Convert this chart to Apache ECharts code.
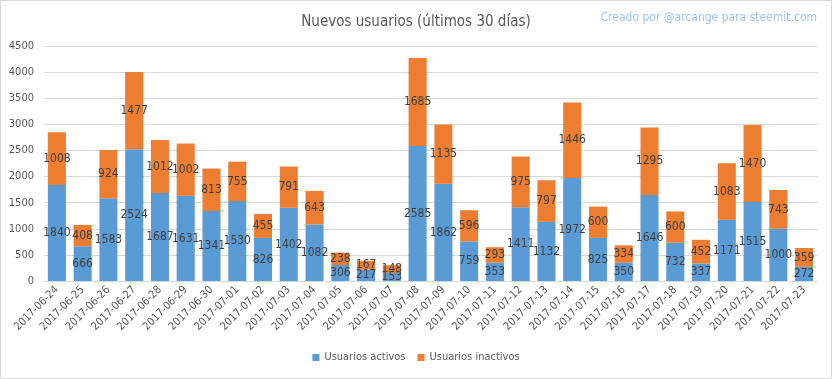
<!DOCTYPE html>
<html><head><meta charset="utf-8">
<script src="https://cdn.jsdelivr.net/npm/echarts@6/dist/echarts.min.js"></script>
<style>html,body{margin:0;padding:0;background:#fff;}#c{width:830px;height:377px;border:1px solid #d9d9d9;}</style>
</head><body><div id="c"></div>
<script>
const categories = ['2017-06-24','2017-06-25','2017-06-26','2017-06-27','2017-06-28','2017-06-29','2017-06-30','2017-07-01','2017-07-02','2017-07-03','2017-07-04','2017-07-05','2017-07-06','2017-07-07','2017-07-08','2017-07-09','2017-07-10','2017-07-11','2017-07-12','2017-07-13','2017-07-14','2017-07-15','2017-07-16','2017-07-17','2017-07-18','2017-07-19','2017-07-20','2017-07-21','2017-07-22','2017-07-23'];
const activos = [1840,666,1583,2524,1687,1631,1341,1530,826,1402,1082,306,217,153,2585,1862,759,353,1411,1132,1972,825,350,1646,732,337,1171,1515,1000,272];
const inactivos = [1008,408,924,1477,1012,1002,813,755,455,791,643,238,167,148,1685,1135,596,293,975,797,1446,600,334,1295,600,452,1083,1470,743,359];
const FONT = "'Liberation Sans Narrow','DejaVu Sans Condensed',sans-serif";
const chart = echarts.init(document.getElementById('c'));
const lbl = {show:true, position:'inside', color:'#404040', fontSize:12, fontFamily:FONT};
chart.setOption({
  animation:false,
  textStyle:{fontFamily:FONT},
  title:[
    {text:'Nuevos usuarios (últimos 30 días)', left:'center', top:9, textStyle:{fontSize:15, fontWeight:'normal', color:'#595959', fontFamily:FONT}},
    {text:'Creado por @arcange para steemit.com', right:9, top:6, textStyle:{fontSize:12, fontWeight:'normal', color:'#9dc3e6', fontFamily:FONT}}
  ],
  legend:{bottom:10, left:'center', itemWidth:7, itemHeight:7, icon:'rect', itemGap:12, textStyle:{fontSize:11, color:'#595959', fontFamily:FONT}, data:['Usuarios activos','Usuarios inactivos']},
  grid:{left:43, right:14, top:45, bottom:97, containLabel:false},
  xAxis:{type:'category', data:categories, axisTick:{show:false}, axisLine:{lineStyle:{color:'#d9d9d9'}},
    axisLabel:{rotate:45, fontSize:11, color:'#595959', interval:0, margin:7, fontFamily:FONT}},
  yAxis:{type:'value', min:0, max:4500, interval:500, axisLine:{show:false}, axisTick:{show:false},
    splitLine:{lineStyle:{color:'#d9d9d9'}}, axisLabel:{fontSize:11, color:'#595959', margin:10, fontFamily:FONT, formatter:function(v){return String(v);}}},
  series:[
    {name:'Usuarios activos', type:'bar', stack:'t', data:activos, barCategoryGap:'30%', itemStyle:{color:'#5B9BD5'}, label:lbl},
    {name:'Usuarios inactivos', type:'bar', stack:'t', data:inactivos, itemStyle:{color:'#ED7D31'}, label:lbl}
  ]
});
</script></body></html>
